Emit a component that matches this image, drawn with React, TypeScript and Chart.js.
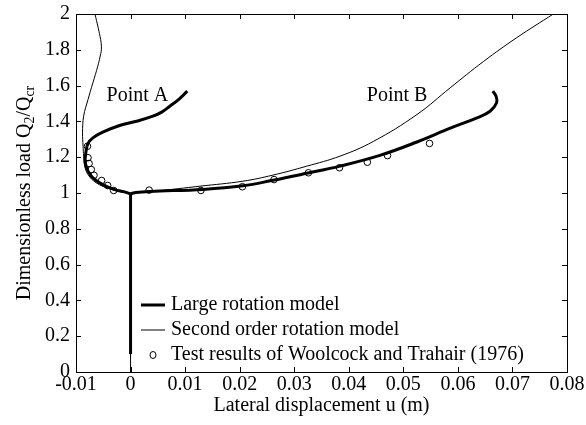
import React, { useEffect, useRef } from "react";
import { Chart, registerables } from "chart.js";

Chart.register(...registerables);

// ---------- data (u in metres, Q2/Qcr dimensionless) ----------
const xTicks = [-0.01, 0, 0.01, 0.02, 0.03, 0.04, 0.05, 0.06, 0.07, 0.08];
const yTicks = [0, 0.2, 0.4, 0.6, 0.8, 1, 1.2, 1.4, 1.6, 1.8, 2];

// Large rotation model
const largeStemU = [0, 0];
const largeStemQ = [0.1, 0.995];
const largeAU = [0, -0.0011, -0.0029, -0.0051, -0.0069, -0.0078, -0.0083, -0.0082, -0.0078, -0.0069, -0.0051, -0.002, 0.0011, 0.0041, 0.0057, 0.0072, 0.0089, 0.0104];
const largeAQ = [0.995, 1.006, 1.019, 1.047, 1.085, 1.122, 1.169, 1.225, 1.277, 1.308, 1.34, 1.377, 1.401, 1.429, 1.452, 1.485, 1.525, 1.569];
const largeBU = [0, 0.001, 0.0035, 0.0133, 0.0206, 0.0261, 0.0323, 0.0384, 0.0457, 0.0525, 0.0586, 0.0635, 0.0659, 0.0671, 0.067, 0.0664];
const largeBQ = [0.995, 1.003, 1.009, 1.02, 1.04, 1.071, 1.11, 1.15, 1.21, 1.285, 1.362, 1.42, 1.457, 1.504, 1.541, 1.569];

// Second order rotation model
const secondStemU = [0, 0];
const secondStemQ = [0, 0.995];
const secondAU = [0, -0.0014, -0.0038, -0.0063, -0.0078, -0.0084, -0.0086, -0.0087, -0.0088, -0.0086, -0.0078, -0.0069, -0.006, -0.0056, -0.00535, -0.0054, -0.0056, -0.006, -0.0065];
const secondAQ = [0.995, 1.004, 1.023, 1.057, 1.103, 1.15, 1.206, 1.261, 1.336, 1.429, 1.522, 1.616, 1.709, 1.76, 1.8, 1.84, 1.876, 1.932, 1.997];
const secondBU = [0, 0.001, 0.005, 0.0127, 0.0206, 0.0261, 0.0323, 0.0384, 0.0445, 0.0525, 0.0586, 0.0647, 0.0708, 0.0775];
const secondBQ = [0.995, 1.002, 1.012, 1.038, 1.066, 1.1, 1.15, 1.206, 1.288, 1.4385, 1.588, 1.735, 1.868, 2.0];

// Test results of Woolcock and Trahair (1976)
const testU = [-0.0079, -0.0078, -0.0076, -0.0072, -0.0067, -0.0053, -0.0042, -0.0031, 0.0034, 0.0129, 0.0205, 0.0263, 0.0326, 0.0383, 0.0434, 0.0471, 0.0548];
const testQ = [1.261, 1.197, 1.165, 1.131, 1.099, 1.07, 1.042, 1.014, 1.016, 1.014, 1.035, 1.075, 1.113, 1.141, 1.172, 1.209, 1.277];

const seriesLabels = ["Large rotation model", "Second order rotation model", "Test results of Woolcock and Trahair (1976)"];
const noteLabels = ["Point A", "Point B"];
const noteU = [-0.0044, 0.0433];
const noteQ = [1.513, 1.513];

const FONT = "'Liberation Serif', 'Times New Roman', serif";

const pts = (us: number[], qs: number[]) => us.map((u, i) => ({ x: u, y: qs[i] }));
const fmt = (v: number) => String(Number(v.toFixed(2)));

const lineDs = (label: string, us: number[], qs: number[], width: number) => ({
  type: "line" as const,
  label,
  data: pts(us, qs),
  showLine: true,
  borderColor: "#000",
  borderWidth: width,
  pointRadius: 0,
  tension: 0.4,
  fill: false,
});

const decor = {
  id: "decor",
  afterDatasetsDraw(chart: any) {
    const { ctx, chartArea: a, scales } = chart;
    const x = scales.x;
    const y = scales.y;
    ctx.save();
    // frame
    ctx.strokeStyle = "#000";
    ctx.lineWidth = 1;
    ctx.strokeRect(a.left + 0.5, a.top + 0.5, a.right - a.left, a.bottom - a.top);
    // inward ticks on all four sides
    ctx.beginPath();
    const tl = 5;
    xTicks.forEach((v) => {
      const px = Math.round(x.getPixelForValue(v)) + 0.5;
      ctx.moveTo(px, a.bottom);
      ctx.lineTo(px, a.bottom - tl);
      ctx.moveTo(px, a.top);
      ctx.lineTo(px, a.top + tl);
    });
    yTicks.forEach((v) => {
      const py = Math.round(y.getPixelForValue(v)) + 0.5;
      ctx.moveTo(a.left, py);
      ctx.lineTo(a.left + tl, py);
      ctx.moveTo(a.right, py);
      ctx.lineTo(a.right - tl, py);
    });
    ctx.stroke();

    ctx.fillStyle = "#000";
    ctx.textBaseline = "alphabetic";
    // annotations
    ctx.font = `20px ${FONT}`;
    ctx.textAlign = "left";
    noteLabels.forEach((t, i) => {
      ctx.fillText(t, x.getPixelForValue(noteU[i]), y.getPixelForValue(noteQ[i]));
    });

    // legend
    const lx0 = a.left + 65;
    const lx1 = a.left + 89;
    const tx = a.left + 95;
    const rows = [a.bottom - 62, a.bottom - 37, a.bottom - 12];
    const widths = [3, 1];
    seriesLabels.forEach((t, i) => {
      const base = rows[i];
      const cy = base - 5;
      if (i < 2) {
        ctx.beginPath();
        ctx.lineWidth = widths[i];
        ctx.moveTo(lx0, cy);
        ctx.lineTo(lx1, cy);
        ctx.stroke();
      } else {
        ctx.beginPath();
        ctx.lineWidth = 1;
        ctx.ellipse((lx0 + lx1) / 2, cy, 3, 3.5, 0, 0, Math.PI * 2);
        ctx.stroke();
      }
      ctx.fillText(t, tx, base);
    });

    // x-axis title
    ctx.textAlign = "center";
    ctx.fillText("Lateral displacement u (m)", (a.left + a.right) / 2, 411);

    // y-axis title with subscripts
    const parts: [string, boolean][] = [["Dimensionless load Q", false], ["2", true], ["/Q", false], ["cr", true]];
    const big = `20px ${FONT}`;
    const small = `14px ${FONT}`;
    let total = 0;
    const ws = parts.map(([s, sub]) => {
      ctx.font = sub ? small : big;
      const w = ctx.measureText(s).width;
      total += w;
      return w;
    });
    ctx.translate(30, (a.top + a.bottom) / 2);
    ctx.rotate(-Math.PI / 2);
    ctx.textAlign = "left";
    let cx = -total / 2;
    parts.forEach(([s, sub], i) => {
      ctx.font = sub ? small : big;
      ctx.fillText(s, cx, sub ? 4 : 0);
      cx += ws[i];
    });
    ctx.restore();
  },
};

export default function App() {
  const ref = useRef<HTMLCanvasElement>(null);
  useEffect(() => {
    if (!ref.current) return;
    const chart = new Chart(ref.current, {
      type: "scatter",
      data: {
        datasets: [
          lineDs(seriesLabels[0], largeStemU, largeStemQ, 3),
          lineDs(seriesLabels[0], largeAU, largeAQ, 3),
          lineDs(seriesLabels[0], largeBU, largeBQ, 3),
          lineDs(seriesLabels[1], secondStemU, secondStemQ, 1),
          lineDs(seriesLabels[1], secondAU, secondAQ, 1),
          lineDs(seriesLabels[1], secondBU, secondBQ, 1),
          {
            type: "scatter" as const,
            label: seriesLabels[2],
            data: pts(testU, testQ),
            pointStyle: "circle",
            pointRadius: 3.3,
            borderWidth: 1,
            borderColor: "#000",
            backgroundColor: "rgba(0,0,0,0)",
            showLine: false,
          },
        ] as any,
      },
      options: {
        responsive: false,
        animation: false,
        events: [],
        layout: { padding: { top: 14, right: 19, left: 0, bottom: 0 } },
        plugins: { legend: { display: false }, tooltip: { enabled: false } },
        scales: {
          x: {
            type: "linear",
            min: -0.01,
            max: 0.08,
            afterBuildTicks: (s: any) => {
              s.ticks = xTicks.map((v) => ({ value: v }));
            },
            afterFit: (s: any) => {
              s.height = 53;
              s.paddingLeft = 0;
              s.paddingRight = 0;
            },
            grid: { display: false, drawTicks: false },
            border: { display: false },
            ticks: {
              autoSkip: false,
              maxRotation: 0,
              padding: 1,
              color: "#000",
              font: { family: FONT, size: 20 },
              callback: (v: any) => fmt(Number(v)),
            },
          },
          y: {
            type: "linear",
            min: 0,
            max: 2,
            afterBuildTicks: (s: any) => {
              s.ticks = yTicks.map((v) => ({ value: v }));
            },
            afterFit: (s: any) => {
              s.width = 76;
              s.paddingTop = 0;
              s.paddingBottom = 0;
            },
            grid: { display: false, drawTicks: false },
            border: { display: false },
            ticks: {
              autoSkip: false,
              padding: 6,
              color: "#000",
              font: { family: FONT, size: 20 },
              callback: (v: any) => fmt(Number(v)),
            },
          },
        },
      } as any,
      plugins: [decor],
    });
    return () => chart.destroy();
  }, []);
  return (
    <div style={{ position: "absolute", left: 0, top: 0, width: 586, height: 425, background: "#fff" }}>
      <canvas ref={ref} width={586} height={425} style={{ display: "block" }} />
    </div>
  );
}
